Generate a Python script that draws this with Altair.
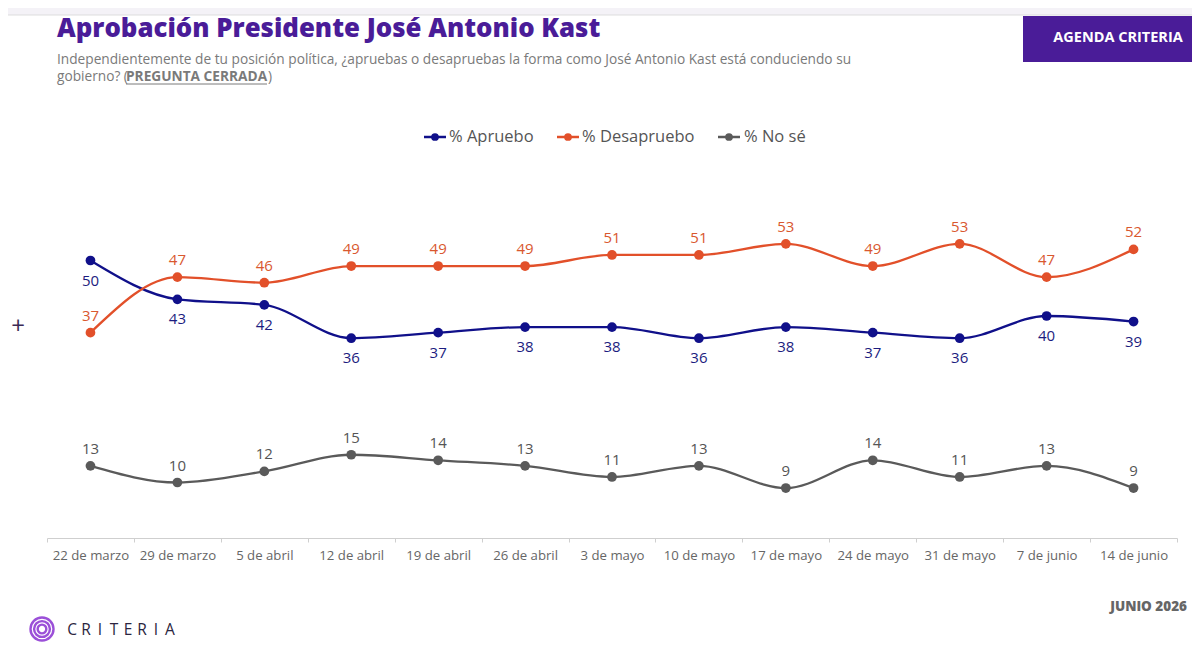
import altair as alt
import pandas as pd

fechas = ["22 de marzo", "29 de marzo", "5 de abril", "12 de abril", "19 de abril",
          "26 de abril", "3 de mayo", "10 de mayo", "17 de mayo", "24 de mayo",
          "31 de mayo", "7 de junio", "14 de junio"]
apruebo = [50, 43, 42, 36, 37, 38, 38, 36, 38, 37, 36, 40, 39]
desaprueba = [37, 47, 46, 49, 49, 49, 51, 51, 53, 49, 53, 47, 52]
nose = [13, 10, 12, 15, 14, 13, 11, 13, 9, 14, 11, 13, 9]

series_names = ["% Apruebo", "% Desapruebo", "% No sé"]
line_colors = ["#10108a", "#e2502a", "#5a5a5a"]
label_colors = ["#1c1c80", "#d9582f", "#555555"]
label_dy = [20, -17, -17]

rows = []
for name, vals in zip(series_names, [apruebo, desaprueba, nose]):
    for f, v in zip(fechas, vals):
        rows.append({"fecha": f, "valor": v, "serie": name})
df = pd.DataFrame(rows)

FONT = "Open Sans"
W, H = 1130, 333

base = alt.Chart(df)
xenc = alt.X("fecha:N", sort=fechas, title=None,
             scale=alt.Scale(type="band", paddingInner=0, paddingOuter=0),
             axis=alt.Axis(tickBand="extent", domainColor="#cfcfcf", tickColor="#cfcfcf",
                           tickSize=4, labelPadding=7, labelFontSize=13.2, labelColor="#666666",
                           labelFont=FONT, labelAngle=0, grid=False))
yenc = alt.Y("valor:Q", scale=alt.Scale(domain=[0, 60], nice=False), axis=None)
cenc = alt.Color("serie:N", scale=alt.Scale(domain=series_names, range=line_colors), legend=None)

lines = base.mark_line(interpolate="monotone", strokeWidth=2.3).encode(x=xenc, y=yenc, color=cenc)
points = base.mark_circle(size=95, opacity=1).encode(x=xenc, y=yenc, color=cenc)

label_layers = []
for name, col, dy in zip(series_names, label_colors, label_dy):
    label_layers.append(
        base.transform_filter(alt.datum.serie == name)
        .mark_text(dy=dy, fontSize=15, font=FONT, fontWeight=500, color=col, baseline="middle")
        .encode(x=xenc, y=yenc, text="valor:Q")
    )

dummy = alt.Chart(pd.DataFrame({"a": [0]}))

def txt(s, x, y, **kw):
    return dummy.mark_text(text=s, **kw).encode(x=alt.value(x), y=alt.value(y))

def rect(x, x2, y, y2, color):
    return dummy.mark_rect(color=color).encode(x=alt.value(x), x2=alt.value(x2),
                                                y=alt.value(y), y2=alt.value(y2))

def rule(x, x2, y, color, w):
    return dummy.mark_rule(color=color, strokeWidth=w).encode(
        x=alt.value(x), x2=alt.value(x2), y=alt.value(y), y2=alt.value(y))

deco = []
# top bar
deco.append(rect(-47, 1145, -197, -190, "#f4f2f7"))
deco.append(rule(-47, 1145, -190, "#dddddd", 1))
# title
deco.append(txt("Aprobación Presidente José Antonio Kast", 10, -168, font=FONT, fontSize=25.8,
                fontWeight=800, color="#4a1c98", align="left", baseline="alphabetic"))
# subtitle
SUB = 13.7
sub1 = ("Independientemente de tu posición política, ¿apruebas o desapruebas la forma "
        "como José Antonio Kast está conduciendo su")
deco.append(txt(sub1, 10, -141, font=FONT, fontSize=SUB, color="#7a7a7a", align="left",
                baseline="alphabetic"))
deco.append(txt("gobierno? (", 10, -124, font=FONT, fontSize=SUB, color="#7a7a7a",
                align="left", baseline="alphabetic"))
deco.append(txt("PREGUNTA CERRADA", 79, -124, font=FONT, fontSize=SUB, fontWeight="bold",
                color="#7a7a7a", align="left", baseline="alphabetic"))
deco.append(txt(")", 221, -124, font=FONT, fontSize=SUB, color="#7a7a7a",
                align="left", baseline="alphabetic"))
deco.append(rule(79, 220, -121, "#7a7a7a", 1))
# agenda box
deco.append(rect(976, 1153, -189, -143, "#4a1c98"))
deco.append(txt("AGENDA CRITERIA", 1071, -167, font=FONT, fontSize=14.5, fontWeight="bold",
                color="#ffffff", align="center", baseline="middle"))
# legend
leg = [(377, 399, 388, 402), (510, 532, 521, 535), (671, 693, 682, 697)]
for (x1, x2, xc, xt), name, col in zip(leg, series_names, line_colors):
    deco.append(rule(x1, x2, -68, col, 2.5))
    deco.append(dummy.mark_circle(size=60, opacity=1, color=col).encode(
        x=alt.value(xc), y=alt.value(-68)))
    deco.append(txt(name, xt, -68, font=FONT, fontSize=16.5, color="#555555",
                    align="left", baseline="middle"))
# side plus
deco.append(txt("+", -29, 122, font=FONT, fontSize=24, color="#3b2a55",
                align="center", baseline="middle"))
# footer
deco.append(txt("JUNIO 2026", 1140, 402, font=FONT, fontSize=13.5, fontWeight=800,
                color="#666666", align="right", baseline="middle"))
for s in [530, 250, 75]:
    deco.append(dummy.mark_point(shape="circle", size=s, filled=False, color="#9b50d8",
                                 strokeWidth=2.4, opacity=1).encode(
        x=alt.value(-5), y=alt.value(424)))
for i, ch in enumerate("CRITERIA"):
    deco.append(txt(ch, 25 + i * 14, 425, font=FONT, fontSize=15.5, color="#2b2540",
                    align="center", baseline="middle"))

chart = alt.layer(*deco, lines, points, *label_layers).properties(
    width=W, height=H,
    background="#ffffff",
    autosize=alt.AutoSizeParams(type="none"),
    padding={"left": 39, "top": 197, "right": 15, "bottom": 104},
).configure_view(strokeWidth=0)

chart.save("out.html", embed_options={"renderer": "svg", "actions": False})
